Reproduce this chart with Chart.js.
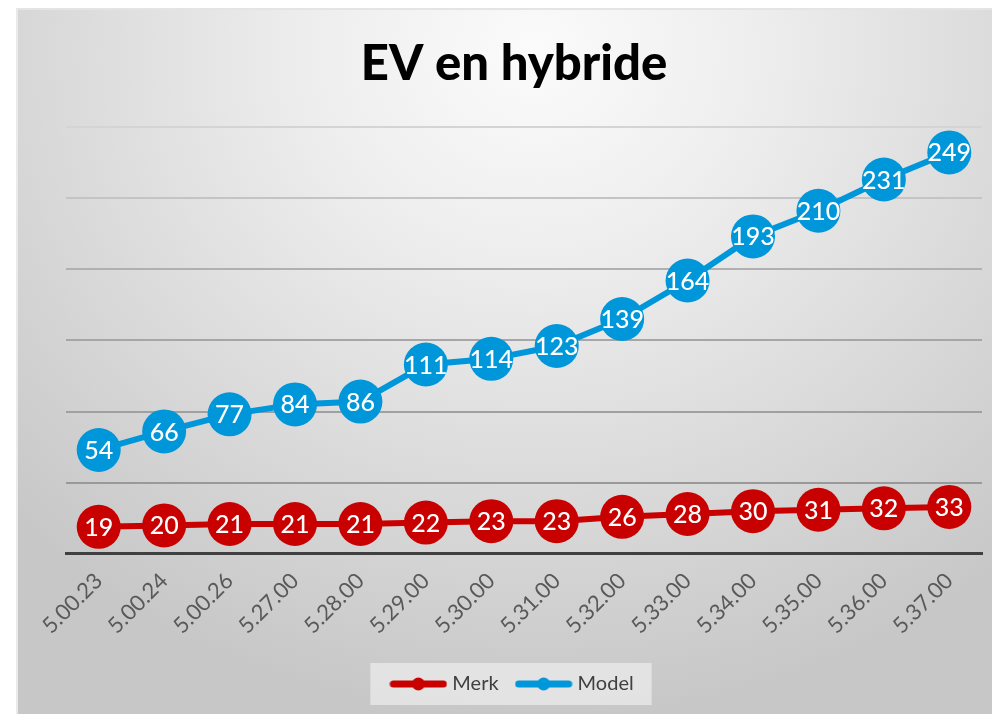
<!DOCTYPE html>
<html>
<head>
<meta charset="utf-8">
<script src="https://cdn.jsdelivr.net/npm/chart.js@4/dist/chart.umd.min.js"></script>
<style>
  html, body { margin: 0; padding: 0; background: #ffffff; overflow: hidden; }
  #bg {
    position: absolute; left: 16px; top: 8px; width: 976px; height: 706px;
    background: radial-gradient(ellipse 75% 95% at 53% 6%, #fbfbfb 0%, #eeeeee 30%, #dcdcdc 62%, #c7c7c7 100%);
    border-top: 2px solid #e4e4e4; border-left: 2px solid #eaeaea; box-sizing: border-box;
  }
  #wrap { position: absolute; left: 0; top: 0; width: 992px; height: 714px; overflow: hidden; }
</style>
</head>
<body>
<div id="bg"></div>
<div id="wrap"><canvas id="c" width="1004" height="714"></canvas></div>
<script>
const categories = ['5.00.23','5.00.24','5.00.26','5.27.00','5.28.00','5.29.00','5.30.00','5.31.00','5.32.00','5.33.00','5.34.00','5.35.00','5.36.00','5.37.00'];
const merk  = [19,20,21,21,21,22,23,23,26,28,30,31,32,33];
const model = [54,66,77,84,86,111,114,123,139,164,193,210,231,249];
const seriesNames = ['Merk','Model'];
const yTicks = [0,50,100,150,200,250,300];

const RED = '#C80000';
const BLUE = '#0096DA';

function legendIcon(color) {
  const c = document.createElement('canvas');
  c.width = 58; c.height = 16;
  const g = c.getContext('2d');
  g.strokeStyle = color; g.lineWidth = 7; g.lineCap = 'round';
  g.beginPath(); g.moveTo(4, 8); g.lineTo(54, 8); g.stroke();
  g.fillStyle = color; g.beginPath(); g.arc(29, 8, 6.5, 0, Math.PI * 2); g.fill();
  return c;
}
const icons = [legendIcon(RED), legendIcon(BLUE)];

const dataLabels = {
  id: 'dataLabels',
  afterDatasetsDraw(chart) {
    const ctx = chart.ctx;
    ctx.save();
    ctx.fillStyle = '#ffffff';
    ctx.font = '500 25px Lato, sans-serif';
    ctx.textAlign = 'center';
    ctx.textBaseline = 'middle';
    chart.data.datasets.forEach((ds, i) => {
      const meta = chart.getDatasetMeta(i);
      meta.data.forEach((pt, j) => {
        ctx.fillText(String(ds.data[j]), pt.x, pt.y + 1);
      });
    });
    ctx.restore();
  }
};

const legendBox = {
  id: 'legendBox',
  beforeDraw(chart) {
    const lg = chart.legend;
    if (!lg || !lg.legendHitBoxes || !lg.legendHitBoxes.length) return;
    const hb = lg.legendHitBoxes;
    let x0 = Infinity, x1 = -Infinity, y0 = Infinity, y1 = -Infinity;
    hb.forEach(b => { x0 = Math.min(x0, b.left); x1 = Math.max(x1, b.left + b.width); y0 = Math.min(y0, b.top); y1 = Math.max(y1, b.top + b.height); });
    const ctx = chart.ctx;
    ctx.save();
    ctx.fillStyle = 'rgba(235,235,235,0.75)';
    const cy = (y0 + y1) / 2;
    ctx.fillRect(x0 - 24, cy - 21, (x1 - x0) + 42, 42);
    ctx.restore();
  }
};

const gridColors = { 0: 'rgba(0,0,0,0)', 50: '#999999', 100: '#a0a0a0', 150: '#a6a6a6', 200: '#b0b0b0', 250: '#c4c4c4', 300: '#d4d4d4' };

new Chart(document.getElementById('c'), {
  type: 'line',
  data: {
    labels: categories,
    datasets: [
      { label: seriesNames[0], data: merk, borderColor: RED, backgroundColor: RED, borderWidth: 6,
        pointRadius: 22, pointHoverRadius: 22, pointBorderWidth: 0, pointBackgroundColor: RED, fill: false, tension: 0 },
      { label: seriesNames[1], data: model, borderColor: BLUE, backgroundColor: BLUE, borderWidth: 6,
        pointRadius: 22, pointHoverRadius: 22, pointBorderWidth: 0, pointBackgroundColor: BLUE, fill: false, tension: 0 }
    ]
  },
  options: {
    responsive: false,
    animation: false,
    layout: { padding: { left: 24, right: 0, top: 0, bottom: 10 } },
    plugins: {
      title: {
        display: true, text: 'EV en hybride', color: '#000000',
        font: { family: 'Lato, sans-serif', size: 49, weight: '900' },
        padding: { top: 35, bottom: 33 }
      },
      legend: {
        display: true, position: 'bottom',
        labels: {
          usePointStyle: true, pointStyleWidth: 48, boxHeight: 16, padding: 21,
          color: '#404040', font: { family: 'Lato, sans-serif', size: 20 },
          generateLabels(chart) {
            return chart.data.datasets.map((ds, i) => ({
              text: ds.label, pointStyle: icons[i], fillStyle: ds.borderColor, strokeStyle: ds.borderColor,
              lineWidth: 0, hidden: false, datasetIndex: i, fontColor: '#404040'
            }));
          }
        }
      },
      tooltip: { enabled: false }
    },
    scales: {
      x: {
        offset: true,
        grid: { display: false, drawTicks: false },
        border: { display: true, color: '#404040', width: 3 },
        ticks: { minRotation: 45, maxRotation: 45, padding: 14, color: '#595959', font: { family: 'Lato, sans-serif', size: 22 }, autoSkip: false }
      },
      y: {
        stacked: true, min: 0, max: 300,
        afterBuildTicks(scale) { scale.ticks = yTicks.map(v => ({ value: v })); },
        afterFit(scale) { scale.width = 42; },
        ticks: { display: false },
        grid: { drawTicks: false, lineWidth: 2, color: (ctx) => gridColors[ctx.tick.value] || '#aaaaaa' },
        border: { display: false }
      }
    }
  },
  plugins: [legendBox, dataLabels]
});
</script>
</body>
</html>
